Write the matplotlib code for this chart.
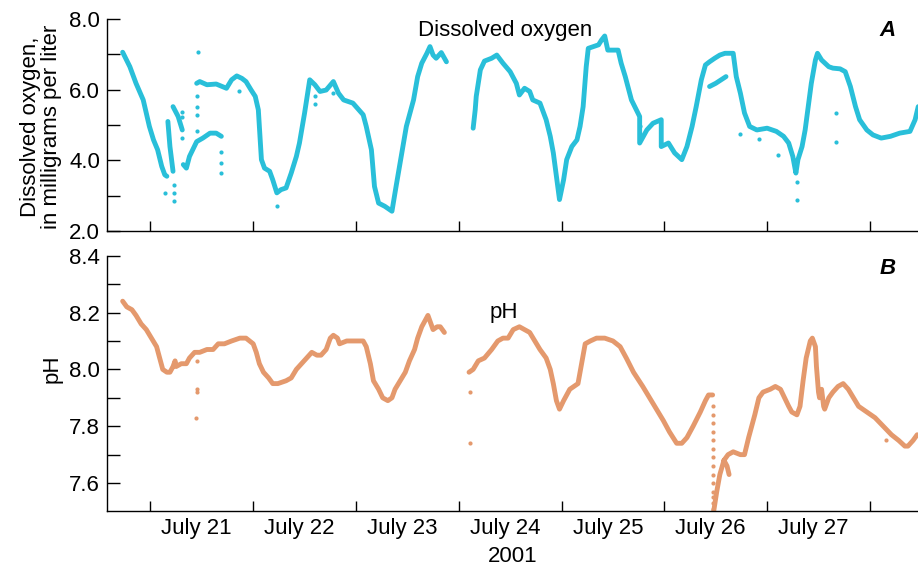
import numpy as np
import matplotlib
matplotlib.use('Agg')
import matplotlib.pyplot as plt

plt.rcParams['font.family'] = ['Liberation Sans', 'DejaVu Sans']

nan = np.nan

# dissolved oxygen trace (time = day of July 2001), nan = break in record
do_time = [20.73, 20.80, 20.86, 20.93, 20.99, 21.03, 21.07, 21.11, 21.14, 21.16, nan,
           21.17, 21.19, 21.22, nan,
           21.22, 21.27, 21.31, nan,
           21.32, 21.35, 21.38, 21.45, 21.51, 21.58, 21.64, 21.69, nan,
           21.45, 21.48, 21.55, 21.64, 21.74, 21.79, 21.84, 21.89, 21.93, 21.98,
           22.02, 22.05, 22.06, 22.08, 22.11, 22.16, 22.19, 22.23, 22.27, 22.32,
           22.37, 22.42, 22.45, 22.50, 22.55, 22.60, 22.65, 22.71, 22.78, 22.83,
           22.88, 22.97, 23.07, 23.10, 23.15, 23.18, 23.22, 23.28, 23.35, 23.39,
           23.44, 23.49, 23.56, 23.60, 23.64, 23.69, 23.72, 23.75, 23.78, 23.83, 23.88, nan,
           24.14, 24.16, 24.17, 24.21, 24.25, 24.32, 24.37, 24.43, 24.50, 24.56,
           24.59, 24.64, 24.69, 24.72, 24.79, 24.85, 24.89, 24.92, 24.95, 24.98,
           25.02, 25.05, 25.10, 25.15, 25.18, 25.21, 25.24, 25.26, 25.31, 25.36,
           25.39, 25.42, 25.45, 25.50, 25.55, 25.58, 25.62, 25.68, 25.76,
           25.76, 25.83, 25.89, 25.97,
           25.97, 26.04, 26.10, 26.17, 26.22, 26.27, 26.31, 26.36, 26.40, 26.44,
           26.49, 26.54, 26.59,
           26.67, 26.70, 26.74, 26.78, 26.83, 26.90, 27.00, 27.09, 27.16, 27.21,
           27.25, 27.28, 27.30, 27.34, 27.37, 27.40, 27.43, 27.47, 27.49, 27.53,
           27.60, 27.64, 27.71, 27.76, 27.81, 27.86, 27.90, 27.97, 28.03, 28.11,
           28.20, 28.29, 28.39, 28.44, 28.47, nan,
           26.44, 26.50, 26.60]
do_value = [7.06, 6.65, 6.18, 5.71, 4.96, 4.58, 4.30, 3.83, 3.59, 3.55, nan,
            5.10, 4.39, 3.69, nan,
            5.52, 5.24, 4.86, nan,
            3.88, 3.78, 4.11, 4.53, 4.63, 4.77, 4.77, 4.68, nan,
            6.18, 6.23, 6.14, 6.16, 6.04, 6.28, 6.39, 6.32, 6.23, 5.99,
            5.81, 5.43, 4.96, 4.02, 3.78, 3.69, 3.45, 3.08, 3.17, 3.22,
            3.64, 4.11, 4.49, 5.34, 6.28, 6.14, 5.95, 5.99, 6.23, 5.90,
            5.71, 5.62, 5.29, 4.96, 4.30, 3.26, 2.79, 2.70, 2.56, 3.26,
            4.11, 4.96, 5.71, 6.37, 6.75, 7.03, 7.22, 6.98, 6.89, 7.05, 6.79, nan,
            4.91, 5.43, 5.81, 6.56, 6.81, 6.89, 6.98, 6.75, 6.51, 6.18,
            5.85, 6.04, 5.95, 5.71, 5.62, 5.15, 4.68, 4.21, 3.55, 2.89,
            3.45, 4.02, 4.39, 4.58, 4.96, 5.52, 6.65, 7.17, 7.22, 7.27,
            7.41, 7.52, 7.12, 7.12, 7.12, 6.75, 6.37, 5.71, 5.24,
            4.49, 4.86, 5.05, 5.15,
            4.39, 4.49, 4.21, 4.02, 4.39, 4.96, 5.52, 6.28, 6.70, 6.79,
            6.89, 6.98, 7.03,
            7.03, 6.37, 5.90, 5.34, 4.96, 4.86, 4.91, 4.82, 4.68, 4.49,
            4.11, 3.64, 4.02, 4.39, 4.86, 5.52, 6.18, 6.84, 7.03, 6.84,
            6.65, 6.61, 6.59, 6.51, 6.09, 5.52, 5.15, 4.86, 4.72, 4.63,
            4.68, 4.77, 4.82, 5.15, 5.52, nan,
            6.09, 6.18, 6.37]

# isolated dissolved oxygen readings
do_dot_time = [21.46, 21.14, 21.23, 21.23, 21.23, 21.31, 21.31, 21.31, 21.45, 21.45,
               21.45, 21.45, 21.69, 21.69, 21.69, 21.86, 22.60, 22.60, 22.78, 22.23,
               26.74, 26.92, 27.11, 27.29, 27.29, 27.67, 27.67, 25.76]
do_dot_value = [7.06, 3.08, 3.31, 3.08, 2.84, 4.63, 5.38, 5.24, 5.81, 5.52,
                5.29, 4.82, 4.25, 3.92, 3.64, 5.95, 5.81, 5.60, 5.90, 2.70,
                4.74, 4.60, 4.16, 3.40, 2.89, 5.35, 4.53, 4.96]

# pH trace
ph_time = [20.73, 20.77, 20.82, 20.86, 20.91, 20.96, 21.01, 21.06, 21.09, 21.12,
           21.16, 21.19, 21.22, 21.24, 21.25, 21.30, 21.35, 21.38, 21.43, 21.48,
           21.55, 21.61, 21.66, 21.72, 21.79, 21.87, 21.93, 22.00, 22.03, 22.06,
           22.10, 22.15, 22.19, 22.24, 22.32, 22.37, 22.42, 22.47, 22.52, 22.57,
           22.62, 22.66, 22.71, 22.75, 22.78, 22.82, 22.84, 22.91, 22.97, 23.02,
           23.07, 23.10, 23.14, 23.17, 23.22, 23.26, 23.31, 23.35, 23.38, 23.43,
           23.48, 23.52, 23.57, 23.60, 23.64, 23.67, 23.70, 23.73, 23.75, 23.79,
           23.82, 23.86, nan,
           24.10, 24.14, 24.19, 24.25, 24.32, 24.38, 24.43, 24.48, 24.53, 24.59,
           24.64, 24.69, 24.74, 24.79, 24.85, 24.89, 24.92, 24.95, 24.98, 25.02,
           25.08, 25.16, 25.19, 25.23, 25.28, 25.34, 25.42, 25.50, 25.57, 25.63,
           25.70, 25.79, 25.89, 25.99, 26.05, 26.12, 26.17, 26.22, 26.28, 26.35,
           26.40, 26.43, 26.47, nan,
           26.48, 26.51, 26.54, 26.58, 26.61, 26.63, nan,
           26.58, 26.62, 26.67, 26.74, 26.78, 26.82, 26.85, 26.88, 26.92, 26.96,
           27.03, 27.08, 27.13, 27.17, 27.21, 27.24, 27.29, 27.32, 27.35, 27.38,
           27.42, 27.44, 27.47, 27.48, 27.50, 27.51, 27.53, 27.55, 27.56, 27.60,
           27.64, 27.69, 27.74, 27.79, 27.84, 27.89, 27.97, 28.05, 28.13, 28.21,
           28.28, 28.34, 28.37, 28.42, 28.46]
ph_value = [8.24, 8.22, 8.21, 8.19, 8.16, 8.14, 8.11, 8.08, 8.04, 8.00,
            7.99, 7.99, 8.01, 8.03, 8.01, 8.02, 8.02, 8.04, 8.06, 8.06,
            8.07, 8.07, 8.09, 8.09, 8.10, 8.11, 8.11, 8.09, 8.06, 8.02,
            7.99, 7.97, 7.95, 7.95, 7.96, 7.97, 8.00, 8.02, 8.04, 8.06,
            8.05, 8.05, 8.07, 8.11, 8.12, 8.11, 8.09, 8.10, 8.10, 8.10,
            8.10, 8.08, 8.02, 7.96, 7.93, 7.90, 7.89, 7.90, 7.93, 7.96,
            7.99, 8.03, 8.07, 8.11, 8.15, 8.17, 8.19, 8.16, 8.14, 8.15,
            8.15, 8.13, nan,
            7.99, 8.00, 8.03, 8.04, 8.07, 8.10, 8.11, 8.11, 8.14, 8.15,
            8.14, 8.13, 8.10, 8.07, 8.04, 8.00, 7.95, 7.89, 7.86, 7.89,
            7.93, 7.95, 8.01, 8.09, 8.10, 8.11, 8.11, 8.10, 8.08, 8.04,
            7.99, 7.94, 7.88, 7.82, 7.78, 7.74, 7.74, 7.76, 7.80, 7.85,
            7.89, 7.91, 7.91, nan,
            7.50, 7.57, 7.63, 7.68, 7.66, 7.63, nan,
            7.68, 7.70, 7.71, 7.70, 7.70, 7.76, 7.80, 7.84, 7.90, 7.92,
            7.93, 7.94, 7.93, 7.90, 7.87, 7.85, 7.84, 7.87, 7.96, 8.04,
            8.10, 8.11, 8.08, 8.01, 7.92, 7.90, 7.93, 7.87, 7.86, 7.90,
            7.92, 7.94, 7.95, 7.93, 7.90, 7.87, 7.85, 7.83, 7.80, 7.77,
            7.75, 7.73, 7.73, 7.75, 7.77]

# isolated pH readings, incl. the sensor drop on July 26
ph_dot_time = [21.45, 21.45, 21.45, 21.44, 24.11, 24.11, 28.16,
               26.47, 26.47, 26.47, 26.47, 26.47, 26.47, 26.47,
               26.47, 26.47, 26.47, 26.47, 26.47, 26.47, 26.47]
ph_dot_value = [8.03, 7.93, 7.92, 7.83, 7.92, 7.74, 7.75,
                7.87, 7.84, 7.81, 7.78, 7.75, 7.72, 7.69,
                7.66, 7.63, 7.60, 7.57, 7.55, 7.53, 7.51]

day_ticks = [21, 22, 23, 24, 25, 26, 27, 28]
day_label_pos = [21.45, 22.45, 23.45, 24.45, 25.45, 26.45, 27.45]
day_labels = ['July 21', 'July 22', 'July 23', 'July 24', 'July 25', 'July 26', 'July 27']

do_color = '#29BFD9'
ph_color = '#E4996D'

fig = plt.figure(figsize=(9.18, 5.68), dpi=100)
ax1 = fig.add_axes([0.1166, 0.5933, 0.8834, 0.3732])
ax2 = fig.add_axes([0.1166, 0.0995, 0.8834, 0.4503])

for ax in (ax1, ax2):
    ax.spines['top'].set_visible(False)
    ax.spines['right'].set_visible(False)
    ax.spines['left'].set_linewidth(1.0)
    ax.spines['bottom'].set_linewidth(1.0)
    ax.set_xlim(20.578, 28.468)
    ax.set_xticks(day_ticks)
    ax.set_xticklabels([])
    ax.tick_params(axis='x', which='major', direction='in', length=7, width=1.0)
    ax.tick_params(axis='y', which='both', direction='in', length=9, width=1.0,
                   labelsize=16, pad=5)

# panel A
ax1.plot(do_time, do_value, color=do_color, lw=3.5,
         solid_capstyle='round', solid_joinstyle='round')
ax1.plot(do_dot_time, do_dot_value, 'o', color=do_color, ms=3, mec='none')
ax1.set_ylim(2.0, 8.0)
ax1.set_yticks([2, 4, 6, 8])
ax1.set_yticklabels(['2.0', '4.0', '6.0', '8.0'])
ax1.set_yticks([3, 5, 7], minor=True)
ax1.tick_params(axis='x', which='minor', length=0)
ax1.set_ylabel('Dissolved oxygen,\nin milligrams per liter', fontsize=16,
               linespacing=1.0)
ax1.yaxis.set_label_coords(-0.056, 0.49)
ax1.text(0.491, 0.948, 'Dissolved oxygen', transform=ax1.transAxes,
         fontsize=16, ha='center', va='center')
ax1.text(0.963, 0.948, 'A', transform=ax1.transAxes, fontsize=16,
         fontweight='bold', fontstyle='italic', ha='center', va='center')

# panel B
ax2.plot(ph_time, ph_value, color=ph_color, lw=3.5,
         solid_capstyle='round', solid_joinstyle='round')
ax2.plot(ph_dot_time, ph_dot_value, 'o', color=ph_color, ms=3, mec='none')
ax2.set_ylim(7.5, 8.4)
ax2.set_yticks([7.6, 7.8, 8.0, 8.2, 8.4])
ax2.set_yticklabels(['7.6', '7.8', '8.0', '8.2', '8.4'])
ax2.set_yticks([7.7, 7.9, 8.1, 8.3], minor=True)
ax2.set_xticks(day_label_pos, minor=True)
ax2.set_xticklabels(day_labels, minor=True)
ax2.tick_params(axis='x', which='minor', length=0, labelsize=16, pad=5)
ax2.set_ylabel('pH', fontsize=16)
ax2.yaxis.set_label_coords(-0.055, 0.56)
ax2.set_xlabel('2001', fontsize=16, labelpad=5)
ax2.text(0.4895, 0.779, 'pH', transform=ax2.transAxes,
         fontsize=16, ha='center', va='center')
ax2.text(0.963, 0.951, 'B', transform=ax2.transAxes, fontsize=16,
         fontweight='bold', fontstyle='italic', ha='center', va='center')

fig.savefig('out.png', dpi=100)
